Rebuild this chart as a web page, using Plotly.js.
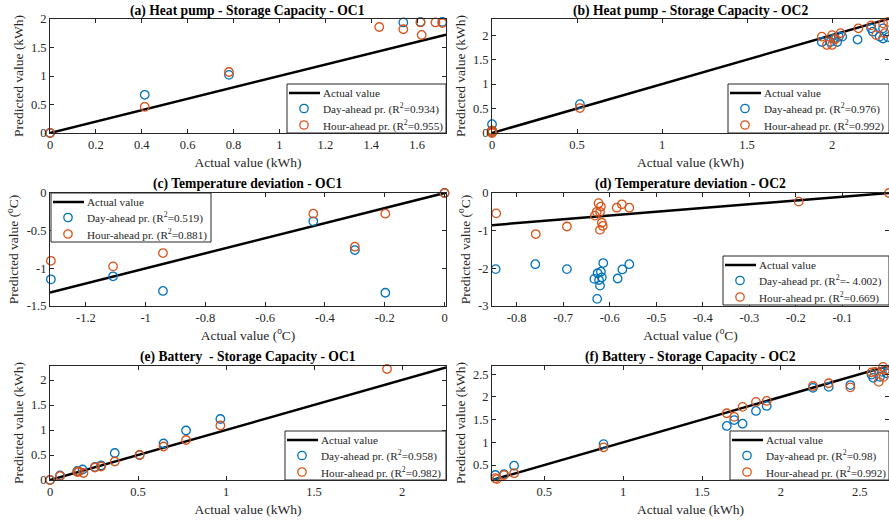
<!DOCTYPE html>
<html>
<head>
<meta charset="utf-8">
<script src="https://cdn.plot.ly/plotly-3.0.1.min.js"></script>
<style>html,body{margin:0;padding:0;overflow:hidden;background:#fff}#chart{width:889px;height:521px}</style>
</head>
<body>
<div id="chart"></div>
<script>
// ---------- DATA ----------
// (a) Heat pump - Storage Capacity - OC1
const aDayX  = [0, 0.413, 0.78, 1.54, 1.615, 1.71];
const aDayY  = [0, 0.67, 1.02, 1.94, 1.95, 1.95];
const aHourX = [0, 0.413, 0.78, 1.435, 1.54, 1.615, 1.62, 1.68, 1.71];
const aHourY = [0, 0.46, 1.07, 1.86, 1.82, 1.94, 1.72, 1.94, 1.93];
// (b) Heat pump - Storage Capacity - OC2
const bDayX  = [0, 0, 0, 0.517, 1.94, 1.99, 2.01, 2.03, 2.04, 2.06, 2.15, 2.23, 2.24, 2.28, 2.30, 2.30, 2.33];
const bDayY  = [0.18, 0.05, 0.02, 0.59, 1.86, 1.86, 1.93, 1.86, 1.97, 1.97, 1.91, 2.14, 2.07, 1.97, 1.93, 2.14, 1.96];
const bHourX = [0, 0, 0, 0.517, 1.94, 1.97, 2.0, 2.0, 2.02, 2.05, 2.155, 2.23, 2.26, 2.30, 2.31, 2.33];
const bHourY = [0.05, 0.02, 0, 0.51, 1.97, 1.80, 2.0, 1.80, 1.92, 2.04, 2.14, 2.2, 2.0, 2.24, 2.04, 2.27];
// (c) Temperature deviation - OC1
const cX     = [-1.317, -1.109, -0.942, -0.439, -0.30, -0.198, 0];
const cDayY  = [-1.146, -1.106, -1.30, -0.376, -0.757, -1.324, 0];
const cHourY = [-0.90, -0.974, -0.797, -0.275, -0.713, -0.275, 0];
// (d) Temperature deviation - OC2
const dDayX  = [-0.845, -0.760, -0.692, -0.633, -0.626, -0.619, -0.623, -0.617, -0.621, -0.614, -0.627, -0.583, -0.573, -0.558];
const dDayY  = [-2.02, -1.89, -2.02, -2.28, -2.13, -2.09, -2.31, -2.24, -2.46, -1.86, -2.81, -2.27, -2.03, -1.89];
const dHourX = [-0.844, -0.759, -0.692, -0.632, -0.628, -0.624, -0.621, -0.619, -0.617, -0.615, -0.621, -0.585, -0.574, -0.558, -0.194, 0];
const dHourY = [-0.54, -1.09, -0.89, -0.60, -0.50, -0.27, -0.50, -0.36, -0.79, -0.875, -0.98, -0.39, -0.30, -0.39, -0.23, 0];
// (e) Battery - Storage Capacity - OC1
const eDayX  = [0, 0.057, 0.155, 0.185, 0.255, 0.29, 0.368, 0.509, 0.645, 0.773, 0.968];
const eDayY  = [0, 0.09, 0.18, 0.21, 0.26, 0.29, 0.54, 0.50, 0.73, 0.99, 1.22];
const eHourX = [0, 0.057, 0.155, 0.164, 0.19, 0.255, 0.29, 0.368, 0.509, 0.645, 0.773, 0.968, 1.915];
const eHourY = [0, 0.08, 0.16, 0.17, 0.14, 0.25, 0.27, 0.37, 0.50, 0.67, 0.80, 1.09, 2.22];
// (f) Battery - Storage Capacity - OC2
const fDayX  = [0.19, 0.245, 0.309, 0.876, 1.657, 1.704, 1.757, 1.842, 1.91, 2.203, 2.303, 2.44, 2.574, 2.585, 2.627, 2.64, 2.67, 2.68];
const fDayY  = [0.28, 0.30, 0.485, 0.96, 1.36, 1.49, 1.41, 1.69, 1.80, 2.20, 2.22, 2.26, 2.49, 2.42, 2.44, 2.55, 2.52, 2.59];
const fHourX = [0.19, 0.20, 0.245, 0.309, 0.876, 1.657, 1.704, 1.757, 1.842, 1.91, 2.203, 2.303, 2.44, 2.574, 2.595, 2.62, 2.647, 2.65, 2.66];
const fHourY = [0.21, 0.19, 0.28, 0.32, 0.89, 1.64, 1.56, 1.78, 1.89, 1.91, 2.24, 2.30, 2.21, 2.54, 2.55, 2.33, 2.66, 2.44, 2.59];

// R^2 labels
const r2Day  = ['0.934', '0.976', '0.519', '- 4.002', '0.958', '0.98'];
const r2Hour = ['0.955', '0.992', '0.881', '0.669', '0.982', '0.992'];
const seriesNames = ['Actual value', 'Day-ahead pr.', 'Hour-ahead pr.'];

// titles
const panelTitles = [
  '(a) Heat pump - Storage Capacity - OC1',
  '(b) Heat pump - Storage Capacity - OC2',
  '(c) Temperature deviation - OC1',
  '(d) Temperature deviation - OC2',
  '(e) Battery\u00a0 - Storage Capacity - OC1',
  '(f) Battery - Storage Capacity - OC2'
];
const xTitles = ['Actual value (kWh)', 'Actual value (kWh)', 'Actual value (<sup>o</sup>C)', 'Actual value (<sup>o</sup>C)', 'Actual value (kWh)', 'Actual value (kWh)'];
const yTitles = ['Predicted value (kWh)', 'Predicted value (kWh)', 'Predicted value (<sup>o</sup>C)', 'Predicted value (<sup>o</sup>C)', 'Predicted value (kWh)', 'Predicted value (kWh)'];

// tick values/labels
const aXT = [0, 0.2, 0.4, 0.6, 0.8, 1, 1.2, 1.4, 1.6];
const aXL = ['0', '0.2', '0.4', '0.6', '0.8', '1', '1.2', '1.4', '1.6'];
const kYT = [0, 0.5, 1, 1.5, 2, 2.5];
const kYL = ['0', '0.5', '1', '1.5', '2', '2.5'];
const cXT = [-1.2, -1, -0.8, -0.6, -0.4, -0.2, 0];
const cXL = ['-1.2', '-1', '-0.8', '-0.6', '-0.4', '-0.2', '0'];
const cYT = [-1.5, -1, -0.5, 0];
const cYL = ['-1.5', '-1', '-0.5', '0'];
const dXT = [-0.8, -0.7, -0.6, -0.5, -0.4, -0.3, -0.2, -0.1, 0];
const dXL = ['-0.8', '-0.7', '-0.6', '-0.5', '-0.4', '-0.3', '-0.2', '-0.1', '0'];
const dYT = [-3, -2, -1, 0];
const dYL = ['-3', '-2', '-1', '0'];

// ---------- LAYOUT ----------
const W = 889, H = 521;
const FONT = '"Times New Roman", "Liberation Serif", serif';
const INK = '#262626';
const BLUE = '#0072BD', ORANGE = '#D95319';

const colX = [[50, 446], [492, 889]];
const rowY = [[19, 133], [193, 306], [366, 480]];
const titleY = [10.7, 184, 356.7];

const panels = [
  {dx: [aDayX, aDayY], hx: [aHourX, aHourY], xr: [0, 1.726], yr: [0, 2], xt: [aXT, aXL], yt: [kYT, kYL], leg: [287, 84, 446]},
  {dx: [bDayX, bDayY], hx: [bHourX, bHourY], xr: [0, 2.335], yr: [0, 2.33], xt: [kYT, kYL], yt: [kYT, kYL], leg: [728, 84, 889]},
  {dx: [cX, cDayY], hx: [cX, cHourY], xr: [-1.32, 0.005], yr: [-1.5, 0], xt: [cXT, cXL], yt: [cYT, cYL], leg: [51, 193, 211]},
  {dx: [dDayX, dDayY], hx: [dHourX, dHourY], xr: [-0.853, 0], yr: [-3, 0], xt: [dXT, dXL], yt: [dYT, dYL], leg: [723, 256, 889]},
  {dx: [eDayX, eDayY], hx: [eHourX, eHourY], xr: [0, 2.25], yr: [0, 2.28], xt: [kYT, kYL], yt: [kYT, kYL], leg: [285, 431, 446]},
  {dx: [fDayX, fDayY], hx: [fHourX, fHourY], xr: [0.169, 2.685], yr: [0.17, 2.68], xt: [kYT, kYL], yt: [kYT, kYL], leg: [730, 431, 889]}
];

const px = v => v / W;          // pixel x -> paper
const py = v => (H - v) / H;    // pixel y -> paper

const traces = [];
const layout = {
  width: W, height: H,
  margin: {l: 0, r: 0, t: 0, b: 0},
  paper_bgcolor: '#fff', plot_bgcolor: '#fff',
  font: {family: FONT, color: INK, size: 12},
  annotations: [], shapes: [],
  showlegend: false
};

panels.forEach((p, i) => {
  const n = i + 1;
  const sfx = n === 1 ? '' : String(n);
  const col = i % 2, row = Math.floor(i / 2);
  const xd = [px(colX[col][0]), px(colX[col][1])];
  const yd = [py(rowY[row][1]), py(rowY[row][0])];

  traces.push({
    type: 'scatter', mode: 'lines', x: [p.xr[0], p.xr[1]], y: [p.xr[0], p.xr[1]],
    xaxis: 'x' + sfx, yaxis: 'y' + sfx,
    name: seriesNames[0], line: {color: '#000', width: 2.5}, cliponaxis: true, hoverinfo: 'skip'
  });
  traces.push({
    type: 'scatter', mode: 'markers', x: p.dx[0], y: p.dx[1],
    xaxis: 'x' + sfx, yaxis: 'y' + sfx,
    name: seriesNames[1],
    marker: {symbol: 'circle-open', size: 8.5, color: BLUE, line: {width: 1.3, color: BLUE}}, cliponaxis: false
  });
  traces.push({
    type: 'scatter', mode: 'markers', x: p.hx[0], y: p.hx[1],
    xaxis: 'x' + sfx, yaxis: 'y' + sfx,
    name: seriesNames[2],
    marker: {symbol: 'circle-open', size: 8.5, color: ORANGE, line: {width: 1.3, color: ORANGE}}, cliponaxis: false
  });

  const axBase = {
    showgrid: false, zeroline: false, showline: true, mirror: 'ticks',
    linecolor: INK, linewidth: 1, ticks: 'inside', ticklen: 4, tickcolor: INK,
    tickfont: {family: FONT, size: 12.5, color: INK}, tickmode: 'array'
  };
  layout['xaxis' + sfx] = Object.assign({}, axBase, {
    domain: xd, range: p.xr, anchor: 'y' + sfx,
    tickvals: p.xt[0], ticktext: p.xt[1],
    title: {text: xTitles[i], font: {family: FONT, size: 13.5, color: INK}, standoff: 6}
  });
  layout['yaxis' + sfx] = Object.assign({}, axBase, {
    domain: yd, range: p.yr, anchor: 'x' + sfx,
    tickvals: p.yt[0], ticktext: p.yt[1],
    title: {text: yTitles[i], font: {family: FONT, size: 13.5, color: INK}, standoff: 4}
  });

  // custom legend box (layout decoration)
  const [lx, ly, rx] = p.leg;
  const bh = 49;
  layout.shapes.push({type: 'rect', xref: 'paper', yref: 'paper', layer: 'above',
    x0: px(lx), x1: px(rx), y0: py(ly + bh), y1: py(ly),
    line: {color: INK, width: 1}, fillcolor: '#fff'});
  const rows = [ly + 9, ly + 24.5, ly + 41];
  layout.shapes.push({type: 'line', xref: 'paper', yref: 'paper', layer: 'above',
    x0: px(lx + 2), x1: px(lx + 33), y0: py(rows[0]), y1: py(rows[0]),
    line: {color: '#000', width: 2.5}});
  [[BLUE, rows[1]], [ORANGE, rows[2]]].forEach(([c, yy]) => {
    layout.shapes.push({type: 'circle', xref: 'paper', yref: 'paper', layer: 'above',
      xsizemode: 'pixel', ysizemode: 'pixel', xanchor: px(lx + 17), yanchor: py(yy),
      x0: -4.2, x1: 4.2, y0: -4.2, y1: 4.2, line: {color: c, width: 1.3}, fillcolor: 'rgba(0,0,0,0)'});
  });
  const labels = [seriesNames[0],
    seriesNames[1] + ' (R<sup>2</sup>=' + r2Day[i] + ')',
    seriesNames[2] + ' (R<sup>2</sup>=' + r2Hour[i] + ')'];
  labels.forEach((t, k) => {
    layout.annotations.push({text: t, xref: 'paper', yref: 'paper', x: px(lx + 34), y: py(rows[k]),
      xanchor: 'left', yanchor: 'middle', showarrow: false,
      font: {family: FONT, size: 11.2, color: INK}});
  });

  layout.annotations.push({
    text: '<b>' + panelTitles[i] + '</b>', xref: 'paper', yref: 'paper',
    x: (xd[0] + xd[1]) / 2, y: py(titleY[row]), xanchor: 'center', yanchor: 'middle',
    showarrow: false, font: {family: FONT, size: 13.6, color: '#000'}
  });
});

Plotly.newPlot('chart', traces, layout, {staticPlot: true, displayModeBar: false});
</script>
</body>
</html>
